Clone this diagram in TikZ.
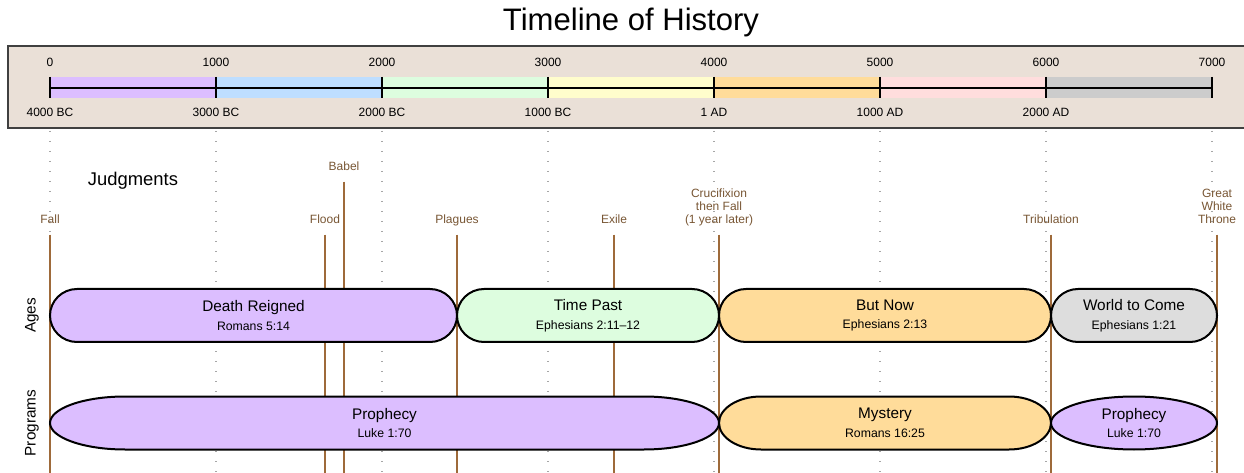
\documentclass[tikz,border=0pt]{standalone}
\usepackage{fontspec}
\setmainfont{Liberation Sans}

\definecolor{scalebg}{RGB}{234,224,215}
\definecolor{eraA}{RGB}{220,190,255}
\definecolor{eraB}{RGB}{190,222,255}
\definecolor{eraC}{RGB}{221,253,223}
\definecolor{eraD}{RGB}{255,253,204}
\definecolor{eraE}{RGB}{255,220,154}
\definecolor{eraF}{RGB}{255,221,221}
\definecolor{eraG}{RGB}{204,204,204}
\definecolor{eraH}{RGB}{221,221,221}
\definecolor{judgeline}{RGB}{158,106,58}
\definecolor{judgetext}{RGB}{120,86,52}

% capsule: x1, x2, y centre, corner x radius, fill
\newcommand{\capsule}[5]{%
  \draw[capline, fill=#5] (#1,#3)
    .. controls (#1,{#3-14.6}) and ({#1+0.45*#4},{#3-26.5}) .. ({#1+#4},{#3-26.5})
    -- ({#2-#4},{#3-26.5})
    .. controls ({#2-0.45*#4},{#3-26.5}) and (#2,{#3-14.6}) .. (#2,#3)
    .. controls (#2,{#3+14.6}) and ({#2-0.45*#4},{#3+26.5}) .. ({#2-#4},{#3+26.5})
    -- ({#1+#4},{#3+26.5})
    .. controls ({#1+0.45*#4},{#3+26.5}) and (#1,{#3+14.6}) .. cycle;}

\tikzset{
  capline/.style={line width=1.5pt, draw=black},
  captitle/.style={align=center, inner sep=0pt, font=\fontsize{11.5}{14}\selectfont},
  scalefont/.style={font=\fontsize{9}{11}\selectfont, inner sep=1pt},
  gridline/.style={draw=black!35, line width=1.1pt, dash pattern=on 1.1pt off 6.4pt},
  axisline/.style={line width=1.5pt, draw=black},
  jline/.style={draw=judgeline, line width=1.5pt, shorten <=5pt},
  jlabel/.style={text=judgetext, align=center, inner sep=1pt, text depth=2pt,
    font=\fontsize{9}{9.75}\selectfont},
  sidelabel/.style={rotate=90, font=\fontsize{11.5}{14}\selectfont}
}

\begin{document}
\begin{tikzpicture}[x=0.75pt,y=-0.75pt]
  \useasboundingbox (0,0) rectangle (1244,473);

  % Title
  \node[font=\fontsize{23.3}{28}\selectfont] (title) at (631,22) {Timeline of History};

  % Scale: box and era bands
  \draw[fill=scalebg, draw=black!75, line width=1pt] (8,46) rectangle (1252,128);
  \foreach \i/\c in {0/eraA,1/eraB,2/eraC,3/eraD,4/eraE,5/eraF,6/eraG}
    \fill[\c] ({50+166*\i},77) rectangle ({216+166*\i},98);
  \draw[axisline] (50,88) -- (1212,88);

  % Scale: ticks, years and grid lines
  \foreach \i/\n in {0/0,1/1000,2/2000,3/3000,4/4000,5/5000,6/6000,7/7000}{
    \draw[axisline] ({50+166*\i},77) -- ({50+166*\i},98);
    \node[scalefont] (yr\i) at ({50+166*\i},62) {\n};
    \draw[gridline] ({50+166*\i},131) -- ({50+166*\i},473);
  }
  \foreach \i/\d in {0/4000 BC,1/3000 BC,2/2000 BC,3/1000 BC,4/1 AD,5/1000 AD,6/2000 AD}
    \node[scalefont] (dt\i) at ({50+166*\i},112) {\d};

  % Judgments
  \node[font=\fontsize{13.8}{16}\selectfont] (judgments) at (133,181) {Judgments};
  \foreach \x/\y/\n/\t in {50/228/fall/Fall, 325/228/flood/Flood, 344/175/babel/Babel,
      457/228/plagues/Plagues, 614/228/exile/Exile,
      719/228/cross/{Crucifixion\\then Fall\\(1 year later)},
      1051/228/trib/Tribulation, 1217/228/gwt/{Great\\White\\Throne}}{
    \node[jlabel, anchor=south] (\n) at (\x,\y) {\t};
    \coordinate (\n-end) at (\x,475);
    \draw[jline] (\n) -- (\n-end);
  }

  % Ages
  \capsule{50}{457}{315.5}{27}{eraA}
  \capsule{457}{719}{315.5}{27}{eraC}
  \capsule{719}{1051}{315.5}{27}{eraE}
  \capsule{1051}{1217}{315.5}{27}{eraH}
  \node[captitle] (deathreigned) at (253.5,315.5) {Death Reigned\\{\fontsize{9.2}{11}\selectfont Romans 5:14}};
  \node[captitle] (timepast) at (588,315.5) {Time Past\\{\fontsize{9.2}{11}\selectfont Ephesians 2:11--12}};
  \node[captitle] (butnow) at (885,315.5) {But Now\\{\fontsize{9.2}{11}\selectfont Ephesians 2:13}};
  \node[captitle] (worldtocome) at (1134,315.5) {World to Come\\{\fontsize{9.2}{11}\selectfont Ephesians 1:21}};
  \node[sidelabel] (ages) at (32,315.5) {Ages};

  % Programs
  \capsule{50}{719}{423}{75}{eraA}
  \capsule{719}{1051}{423}{42}{eraE}
  \capsule{1051}{1217}{423}{83}{eraA}
  \node[captitle] (prophecyA) at (384.5,423) {Prophecy\\{\fontsize{9.2}{11}\selectfont Luke 1:70}};
  \node[captitle] (mystery) at (885,423) {Mystery\\{\fontsize{9.2}{11}\selectfont Romans 16:25}};
  \node[captitle] (prophecyB) at (1134,423) {Prophecy\\{\fontsize{9.2}{11}\selectfont Luke 1:70}};
  \node[sidelabel] (programs) at (32,423) {Programs};
\end{tikzpicture}
\end{document}
